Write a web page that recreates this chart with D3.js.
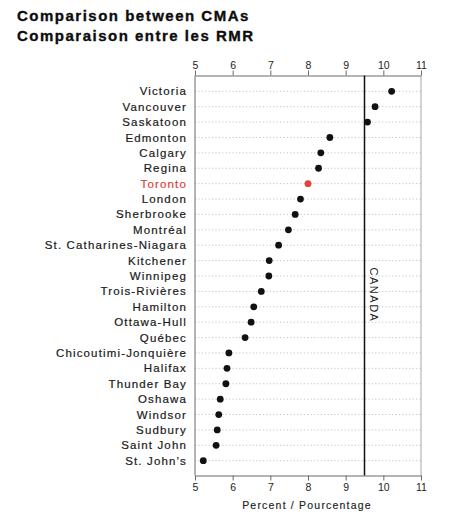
<!DOCTYPE html>
<html>
<head>
<meta charset="utf-8">
<script src="https://cdn.jsdelivr.net/npm/d3@7"></script>
<style>
  html, body { margin: 0; padding: 0; background: #ffffff; }
  svg { display: block; }
  text { font-family: "Liberation Sans", Arial, Helvetica, sans-serif; }
</style>
</head>
<body>
<svg id="chart" width="461" height="517"></svg>
<script>
const titleLines = ["Comparison between CMAs", "Comparaison entre les RMR"];
const categories = ["Victoria", "Vancouver", "Saskatoon", "Edmonton", "Calgary", "Regina",
  "Toronto", "London", "Sherbrooke", "Montréal", "St. Catharines-Niagara", "Kitchener",
  "Winnipeg", "Trois-Rivières", "Hamilton", "Ottawa-Hull", "Québec", "Chicoutimi-Jonquière",
  "Halifax", "Thunder Bay", "Oshawa", "Windsor", "Sudbury", "Saint John", "St. John’s"];
const values = [10.22, 9.78, 9.58, 8.58, 8.34, 8.28, 8.0, 7.8, 7.66, 7.48, 7.22, 6.97,
  6.96, 6.76, 6.56, 6.49, 6.33, 5.9, 5.85, 5.82, 5.67, 5.63, 5.59, 5.56, 5.22];
const highlight = ["Toronto"];
const tickValues = [5, 6, 7, 8, 9, 10, 11];
const canadaValue = [9.5];
const canadaLabel = ["CANADA"];
const axisTitle = ["Percent / Pourcentage"];

const svg = d3.select("#chart");
const pLeft = 195, pRight = 421, pTop = 75.5, pBottom = 475.5;

const x = d3.scaleLinear().domain([5, 11]).range([pLeft, pRight]);
const y = d3.scalePoint().domain(categories).range([91.3, 460.7]);

// Title
svg.append("g").selectAll("text").data(titleLines).join("text")
  .attr("x", 17).attr("y", (d, i) => 21 + i * 19.5)
  .attr("font-size", 15).attr("font-weight", "bold")
  .attr("letter-spacing", 1.5).attr("fill", "#0d0d0d")
  .attr("stroke", "#0d0d0d").attr("stroke-width", 0.35)
  .text(d => d);

// Grid lines (dotted)
svg.append("g").selectAll("line").data(categories).join("line")
  .attr("x1", pLeft).attr("x2", pRight)
  .attr("y1", d => y(d)).attr("y2", d => y(d))
  .attr("stroke", "#b5b5b5").attr("stroke-width", 0.8)
  .attr("stroke-dasharray", "1.2,2.2");

// Frame sides
svg.append("line").attr("x1", pLeft).attr("x2", pLeft).attr("y1", pTop).attr("y2", pBottom)
  .attr("stroke", "#6a6a6a").attr("stroke-width", 1);
svg.append("line").attr("x1", pRight).attr("x2", pRight).attr("y1", pTop).attr("y2", pBottom)
  .attr("stroke", "#a8a8a8").attr("stroke-width", 1);

// Axes
const topAxis = d3.axisTop(x).tickValues(tickValues).tickFormat(d3.format("d")).tickSizeInner(5).tickSizeOuter(0).tickPadding(2);
const botAxis = d3.axisBottom(x).tickValues(tickValues).tickFormat(d3.format("d")).tickSizeInner(5).tickSizeOuter(0).tickPadding(3);

function styleAxis(g) {
  g.select(".domain").attr("stroke", "#6a6a6a").attr("stroke-width", 1.2);
  g.selectAll(".tick line").attr("stroke", "#6a6a6a");
  g.selectAll(".tick text").attr("font-size", 10.5).attr("fill", "#222")
    .attr("font-family", "'Liberation Sans', Arial, sans-serif");
}
svg.append("g").attr("transform", `translate(0,${pTop})`).call(topAxis).call(styleAxis);
svg.append("g").attr("transform", `translate(0,${pBottom})`).call(botAxis).call(styleAxis);

// Canada reference line
svg.append("g").selectAll("line").data(canadaValue).join("line")
  .attr("x1", d => x(d)).attr("x2", d => x(d))
  .attr("y1", pTop).attr("y2", pBottom)
  .attr("stroke", "#111").attr("stroke-width", 1.5);
svg.append("g").selectAll("text").data(canadaLabel).join("text")
  .attr("transform", `translate(${x(canadaValue[0]) + 5},295) rotate(90)`)
  .attr("text-anchor", "middle")
  .attr("font-size", 11).attr("letter-spacing", 1.5).attr("fill", "#222")
  .text(d => d);

// Category labels
svg.append("g").selectAll("text").data(categories).join("text")
  .attr("x", 187).attr("y", d => y(d)).attr("dy", "0.35em")
  .attr("text-anchor", "end")
  .attr("font-size", 11.5).attr("letter-spacing", 1.15)
  .attr("fill", d => highlight.includes(d) ? "#d9443c" : "#1a1a1a")
  .attr("stroke", d => highlight.includes(d) ? "#d9443c" : "#1a1a1a")
  .attr("stroke-width", 0.2)
  .text(d => d);

// Dots
svg.append("g").selectAll("circle").data(categories).join("circle")
  .attr("cx", (d, i) => x(values[i])).attr("cy", d => y(d))
  .attr("r", 3.4)
  .attr("fill", d => highlight.includes(d) ? "#e0443a" : "#111");

// Axis title
svg.append("g").selectAll("text").data(axisTitle).join("text")
  .attr("x", 307).attr("y", 509).attr("text-anchor", "middle")
  .attr("font-size", 10.5).attr("letter-spacing", 1.2).attr("fill", "#222")
  .attr("stroke", "#222").attr("stroke-width", 0.15)
  .text(d => d);
</script>
</body>
</html>
